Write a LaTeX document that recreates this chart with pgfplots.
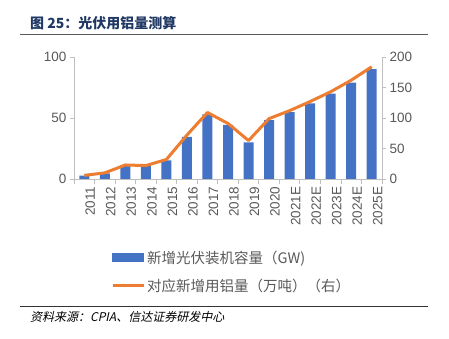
\documentclass[border=0pt]{standalone}
\usepackage{pgfplots}
\pgfplotsset{compat=1.18}
\usepackage{fontspec}
\setmainfont{Liberation Sans}
\newfontfamily\cjk{Noto Sans CJK SC}
\newfontfamily\cjkit[FakeSlant=0.22]{Noto Sans CJK SC}
\definecolor{barblue}{HTML}{4472C4}
\definecolor{lineorange}{HTML}{ED7D31}
\definecolor{txtgray}{HTML}{595959}
\definecolor{axgray}{HTML}{BFBFBF}
\definecolor{titleblue}{HTML}{1F3864}
\pgfplotstableread{
x bar line
0 2.7 6
1 4.6 10
2 10.9 23
3 10.6 22
4 15.2 32
5 34.5 72
6 53 109
7 44.3 91
8 30.1 63
9 48.2 99
10 54.9 112
11 62 127
12 70 143
13 79 162
14 90 184
}\datatable
\begin{document}
\begin{tikzpicture}[x=1pt,y=1pt]
\path (0,0) rectangle (449,339);
\node[anchor=west,inner sep=0pt,text=titleblue] at (30,316) {\fontsize{14}{16}\selectfont\cjk\bfseries 图 25：光伏用铝量测算};
\draw[gray!70!black,line width=0.9pt] (20,305) -- (428,305);
\draw[black!80,line width=0.9pt] (20,33) -- (428,33);
\node[anchor=west,inner sep=0pt,text=black] at (30,22) {\fontsize{12}{14}\selectfont\cjkit 资料来源：CPIA、信达证券研发中心};
\begin{axis}[
  at={(74pt,160pt)}, anchor=south west,
  width=308pt, height=122pt, scale only axis,
  /pgf/number format/assume math mode=true,
  xmin=-0.5, xmax=14.5, ymin=0, ymax=100,
  ytick={0,50,100},
  axis y line*=left, axis x line*=bottom,
  axis line style={axgray, line width=0.8pt, -},
  every tick/.style={axgray, line width=0.8pt},
  tick align=outside, major tick length=4pt,
  xtick={0,...,14},
  xticklabels={2011,2012,2013,2014,2015,2016,2017,2018,2019,2020,2021E,2022E,2023E,2024E,2025E},
  x tick style={draw=none},
  extra x ticks={-0.5,0.5,...,14.5},
  extra x tick labels={},
  extra x tick style={x tick style={draw=axgray,line width=0.8pt}, major tick length=5pt},
  x tick label style={rotate=90, anchor=east, text=txtgray, font=\fontsize{13.5}{15}\selectfont, yshift=-6pt},
  y tick label style={text=txtgray, font=\fontsize{13.5}{15}\selectfont},
]
\addplot[ybar, bar width=10pt, fill=barblue, draw=none] table[x=x,y=bar] {\datatable};
\end{axis}
\begin{axis}[
  at={(74pt,160pt)}, anchor=south west,
  width=308pt, height=122pt, scale only axis,
  /pgf/number format/assume math mode=true,
  xmin=-0.5, xmax=14.5, ymin=0, ymax=200,
  ytick={0,50,100,150,200},
  axis y line*=right, axis x line=none,
  axis line style={axgray, line width=0.8pt, -},
  every tick/.style={axgray, line width=0.8pt},
  tick align=outside, major tick length=4pt,
  y tick label style={text=txtgray, font=\fontsize{13.5}{15}\selectfont},
  legend style={at={(0.12,-0.57)}, anchor=north west, draw=none, fill=none,
    font=\fontsize{14.5}{16}\selectfont\cjk, text=txtgray, row sep=10pt, inner sep=0pt},
  legend cell align=left,
]
\addlegendimage{legend image code/.code={\fill[barblue] (0pt,-4pt) rectangle (31pt,4pt);}}
\addlegendentry{新增光伏装机容量（GW)}
\addplot[lineorange, line width=3pt, line join=round,
  legend image code/.code={\draw[lineorange,line width=3pt] (0pt,0pt) -- (31pt,0pt);}]
  table[x=x,y=line] {\datatable};
\addlegendentry{对应新增用铝量（万吨）（右）}
\end{axis}
\end{tikzpicture}
\end{document}
